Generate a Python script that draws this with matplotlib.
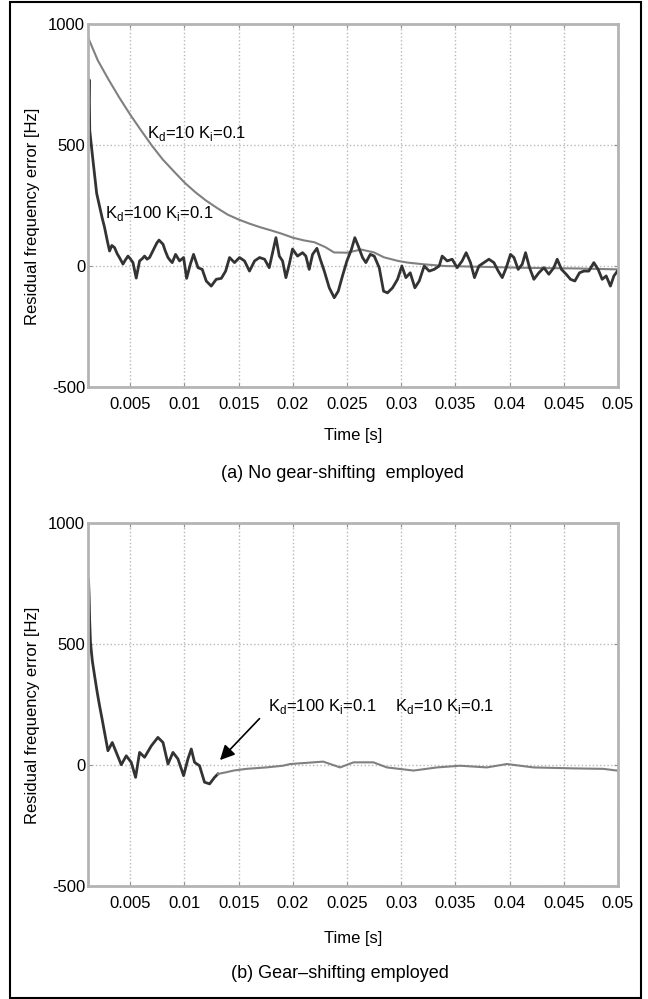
import matplotlib
matplotlib.use('Agg')
import matplotlib.pyplot as plt
from matplotlib.patches import Rectangle

plt.rcParams['font.family'] = ['Liberation Sans', 'DejaVu Sans']
plt.rcParams['mathtext.fontset'] = 'custom'
plt.rcParams['mathtext.rm'] = 'Liberation Sans'
plt.rcParams['axes.unicode_minus'] = False

# (a) Kd=10, Ki=0.1 : slow smooth decay
t_kd10 = [0.0011, 0.002, 0.003, 0.004, 0.005, 0.006, 0.007, 0.008, 0.009, 0.010,
          0.011, 0.012, 0.013, 0.014, 0.015, 0.016, 0.017, 0.018, 0.019, 0.020,
          0.021, 0.022, 0.023, 0.0238, 0.025, 0.0263, 0.0275, 0.0284, 0.0297, 0.0306,
          0.0321, 0.034, 0.036, 0.038, 0.040, 0.042, 0.044, 0.046, 0.048, 0.050]
v_kd10 = [945, 850, 770, 695, 625, 560, 497, 440, 392, 345,
          305, 270, 240, 212, 192, 175, 160, 147, 133, 117,
          106, 98, 78, 56, 55, 68, 56, 36, 21, 14,
          7, 0, -2, -4, -6, -8, -9, -10, -12, -14]

# (a) Kd=100, Ki=0.1 : fast but noisy
t_kd100 = [0.00112, 0.00120, 0.00126, 0.00140, 0.00155, 0.00170, 0.00190, 0.00210, 0.00240, 0.00263,
           0.00290, 0.00309, 0.00330, 0.00355, 0.00380, 0.00400, 0.00433, 0.00455, 0.00479, 0.00500,
           0.00525, 0.00555, 0.00586, 0.00610, 0.00632, 0.00655, 0.00678, 0.00700, 0.00724, 0.00745,
           0.00765, 0.00802, 0.00825, 0.00848, 0.00870, 0.00887, 0.00918, 0.00955, 0.00992, 0.01020,
           0.01054, 0.01084, 0.01125, 0.01164, 0.01201, 0.01247, 0.01293, 0.01340, 0.01380, 0.01416,
           0.01462, 0.01508, 0.01554, 0.01600, 0.01647, 0.01693, 0.01739, 0.01782, 0.01844, 0.01875,
           0.01905, 0.01936, 0.01967, 0.01997, 0.02043, 0.02090, 0.02120, 0.02151, 0.02182, 0.02222,
           0.02253, 0.02290, 0.02336, 0.02382, 0.02419, 0.02458, 0.02499, 0.02541, 0.02572, 0.02603,
           0.02643, 0.02674, 0.02714, 0.02751, 0.02797, 0.02837, 0.02873, 0.02920, 0.02966, 0.03006,
           0.03043, 0.03083, 0.03126, 0.03166, 0.03212, 0.03258, 0.03304, 0.03350, 0.03378, 0.03424,
           0.03470, 0.03516, 0.03562, 0.03599, 0.03639, 0.03676, 0.03717, 0.03763, 0.03809, 0.03855,
           0.03895, 0.03932, 0.03969, 0.04008, 0.04040, 0.04079, 0.04116, 0.04147, 0.04184, 0.04224,
           0.04270, 0.04316, 0.04362, 0.04408, 0.04439, 0.04479, 0.04522, 0.04562, 0.04602, 0.04645,
           0.04685, 0.04731, 0.04777, 0.04817, 0.04854, 0.04891, 0.04930, 0.04962, 0.04995]
v_kd100 = [600, 770, 560, 500, 440, 380, 300, 260, 200, 159,
           100, 62, 85, 76, 50, 35, 8, 25, 41, 30,
           14, -50, 21, 30, 41, 28, 35, 55, 76, 95,
           107, 90, 60, 35, 22, 14, 48, 21, 35, -51,
           7, 48, -7, -14, -62, -83, -55, -51, -21, 35,
           14, 35, 21, -21, 21, 35, 28, -7, 117, 41,
           21, -48, 7, 70, 41, 55, 41, -14, 48, 73,
           28, -21, -90, -131, -104, -41, 21, 69, 117, 83,
           35, 14, 48, 41, -7, -104, -111, -90, -55, 0,
           -48, -28, -90, -62, 0, -21, -14, 0, 41, 21,
           28, -7, 21, 55, 14, -48, 0, 14, 28, 14,
           -21, -48, -7, 48, 35, -14, 7, 55, -7, -55,
           -28, -7, -34, -7, 28, -14, -34, -55, -62, -28,
           -21, -21, 14, -14, -55, -41, -83, -41, -21]

# (b) gear-shifting: Kd=100 first, then switch to Kd=10
t_gs100 = [0.00115, 0.00120, 0.00125, 0.00133, 0.00150, 0.00171, 0.00195, 0.00217, 0.00240, 0.00263,
           0.00294, 0.00334, 0.00371, 0.00417, 0.00463, 0.00509, 0.00549, 0.00586, 0.00632, 0.00694,
           0.00755, 0.00802, 0.00848, 0.00894, 0.00940, 0.00992, 0.01032, 0.01063, 0.01093, 0.01139,
           0.01185, 0.01232, 0.01278, 0.01309]
v_gs100 = [765, 700, 600, 505, 430, 368, 300, 244, 190, 134,
           59, 93, 52, 1, 38, 11, -51, 52, 32, 79,
           114, 93, 4, 52, 25, -44, 25, 66, 11, -3,
           -71, -78, -51, -37]
t_gs10 = [0.01309, 0.01385, 0.01453, 0.0157, 0.01755, 0.01908, 0.01976, 0.0219, 0.0228, 0.02345,
          0.02436, 0.0256, 0.02743, 0.02868, 0.03114, 0.0333, 0.03544, 0.0379, 0.03975, 0.0422,
          0.04589, 0.04866, 0.0499]
v_gs10 = [-37, -30, -23, -16, -10, -3, 4, 11, 14, 4,
          -10, 11, 11, -10, -23, -10, -3, -10, 4, -10,
          -14, -16, -23]

xticks = [0.005, 0.01, 0.015, 0.02, 0.025, 0.03, 0.035, 0.04, 0.045, 0.05]
xticklabels = ['0.005', '0.01', '0.015', '0.02', '0.025', '0.03', '0.035', '0.04', '0.045', '0.05']
yticks = [-500, 0, 500, 1000]

lbl_kd10 = r'K$_\mathregular{d}$=10 K$_\mathregular{i}$=0.1'
lbl_kd100 = r'K$_\mathregular{d}$=100 K$_\mathregular{i}$=0.1'

fig = plt.figure(figsize=(6.48, 9.99), dpi=100)
ax1 = fig.add_axes([0.1358, 0.6126, 0.8179, 0.3634])
ax2 = fig.add_axes([0.1358, 0.1131, 0.8179, 0.3634])

for ax in (ax1, ax2):
    ax.set_xlim(0.0011, 0.05)
    ax.set_ylim(-500, 1000)
    ax.set_xticks(xticks)
    ax.set_xticklabels(xticklabels)
    ax.set_yticks(yticks)
    ax.grid(True, linestyle=':', color='#b8b8b8', linewidth=1.0)
    ax.tick_params(direction='in', length=3, color='#909090', labelsize=12,
                   top=True, right=True)
    ax.tick_params(axis='x', pad=7)
    ax.tick_params(axis='y', pad=2)
    for s in ax.spines.values():
        s.set_color('#b4b4b4')
        s.set_linewidth(2)
    ax.set_ylabel('Residual frequency error [Hz]', fontsize=12)
    ax.yaxis.set_label_coords(-0.09, 0.47)

# top panel
ax1.plot(t_kd10, v_kd10, color='#808080', linewidth=1.5)
ax1.plot(t_kd100, v_kd100, color='#333333', linewidth=2.0)
ax1.text(0.00657, 548, lbl_kd10, fontsize=12, va='center')
ax1.text(0.00269, 216, lbl_kd100, fontsize=12, va='center')

# bottom panel
ax2.plot(t_gs100, v_gs100, color='#333333', linewidth=2.0)
ax2.plot(t_gs10, v_gs10, color='#808080', linewidth=1.5)
ax2.text(0.0177, 243, lbl_kd100, fontsize=12, va='center')
ax2.text(0.02945, 243, lbl_kd10, fontsize=12, va='center')
ax2.annotate('', xy=(0.0131, 12), xytext=(0.0171, 200),
             arrowprops=dict(arrowstyle='-|>', color='black', lw=1.2, mutation_scale=22))

fig.text(0.545, 1 - 436 / 999, 'Time [s]', ha='center', va='center', fontsize=12)
fig.text(0.528, 1 - 474 / 999, '(a) No gear-shifting  employed', ha='center', va='center', fontsize=13)
fig.text(0.545, 1 - 938 / 999, 'Time [s]', ha='center', va='center', fontsize=12)
fig.text(0.525, 1 - 974 / 999, '(b) Gear\u2013shifting employed', ha='center', va='center', fontsize=13)

fig.patches.append(Rectangle((10 / 648, 1 / 999), 631 / 648, 996 / 999, transform=fig.transFigure,
                             fill=False, edgecolor='black', linewidth=1.5))

fig.savefig('out.png', dpi=100)
